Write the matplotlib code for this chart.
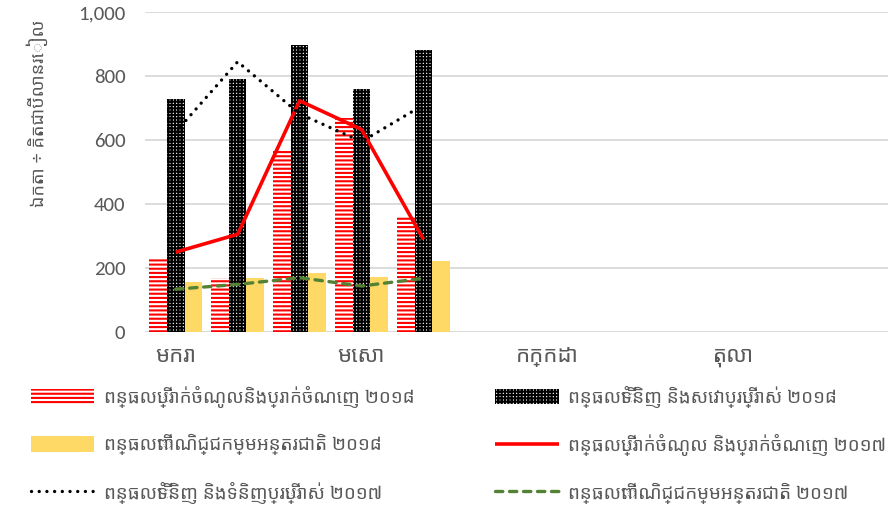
import numpy as np
import matplotlib
matplotlib.use("Agg")
import matplotlib.pyplot as plt

# months (only every 3rd label is shown on the axis)
months = ["មករា", "កុម្ភៈ", "មីនា", "មេសា", "ឧសភា", "មិថុនា",
          "កក្កដា", "សីហា", "កញ្ញា", "តុលា", "វិច្ឆិកា", "ធ្នូ"]

# values in billion riel, Jan..May
income_2018 = [232, 169, 567, 668, 363]
goods_2018 = [728, 792, 898, 759, 882]
trade_2018 = [155, 169, 184, 172, 222]
income_2017 = [249, 305, 723, 633, 289]
goods_2017 = [625, 845, 682, 595, 710]
trade_2017 = [133, 148, 169, 143, 167]

labels = [
    "ពន្ធលើប្រាក់ចំណូលនិងប្រាក់ចំណេញ ២០១៨",
    "ពន្ធលើទំនិញ និងសេវាប្រើប្រាស់ ២០១៨",
    "ពន្ធលើពាណិជ្ជកម្មអន្តរជាតិ ២០១៨",
    "ពន្ធលើប្រាក់ចំណូល និងប្រាក់ចំណេញ ២០១៧",
    "ពន្ធលើទំនិញ និងទំនិញប្រើប្រាស់ ២០១៧",
    "ពន្ធលើពាណិជ្ជកម្មអន្តរជាតិ ២០១៧",
]
ylabel = "ឯកតា ÷ គិតជាប៊ីលានរៀល"

KHMER = ["Noto Sans Khmer", "DejaVu Sans"]
NUM = ["Carlito", "DejaVu Sans"]
TXT = "#595959"

plt.rcParams["hatch.linewidth"] = 1.5

fig = plt.figure(figsize=(8.88, 5.07), dpi=100)
ax = fig.add_axes([0.163, 0.3458, 0.837, 0.63])

x = np.arange(len(income_2018))
w = 0.284

b1 = ax.bar(x - w, income_2018, w, facecolor="white", edgecolor="#ff0000",
            hatch="----", lw=0, zorder=2)
b2 = ax.bar(x, goods_2018, w, facecolor="white", edgecolor="black",
            hatch="+++++", lw=0, zorder=2)
b3 = ax.bar(x + w, trade_2018, w, color="#ffd966", lw=0, zorder=2)

l1, = ax.plot(x, income_2017, color="#ff0000", lw=2.6, zorder=3,
              solid_capstyle="butt")
l2, = ax.plot(x, goods_2017, color="black", lw=2.4, zorder=3,
              linestyle=(0, (0.01, 2.3)), dash_capstyle="round")
l3, = ax.plot(x, trade_2017, color="#548235", lw=2.4, zorder=3,
              linestyle=(0, (2.2, 2.0)), dash_capstyle="round")

ax.set_xlim(-0.5, len(months) - 0.5)
ax.set_ylim(0, 1000)
ax.set_yticks(np.arange(0, 1001, 200))
ax.set_yticklabels([f"{v:,}" for v in range(0, 1001, 200)], family=NUM,
                   fontsize=15, color=TXT)
ax.set_xticks(np.arange(0, len(months), 3))
ax.set_xticklabels(months[::3], family=KHMER, fontsize=16, color=TXT)
ax.tick_params(axis="y", length=0, pad=14)
ax.tick_params(axis="x", length=0, pad=10)
ax.grid(axis="y", color="#d9d9d9", lw=1.3, zorder=0)
for s in ax.spines.values():
    s.set_visible(False)

fig.text(0.042, 1 - 113 / 507, ylabel, rotation=90, ha="center", va="center",
         family=KHMER, fontsize=13, color=TXT)

leg_kw = dict(frameon=False, handlelength=3.4, handleheight=0.9,
              labelspacing=1.4, handletextpad=0.5, borderaxespad=0,
              labelcolor=TXT, prop={"family": KHMER, "size": 13.5})
fig.legend([b1, b3, l2], [labels[0], labels[2], labels[4]],
           loc="upper left", bbox_to_anchor=(0.026, 0.254), **leg_kw)
fig.legend([b2, l1, l3], [labels[1], labels[3], labels[5]],
           loc="upper left", bbox_to_anchor=(0.549, 0.254), **leg_kw)

fig.savefig("out.png", dpi=100)
